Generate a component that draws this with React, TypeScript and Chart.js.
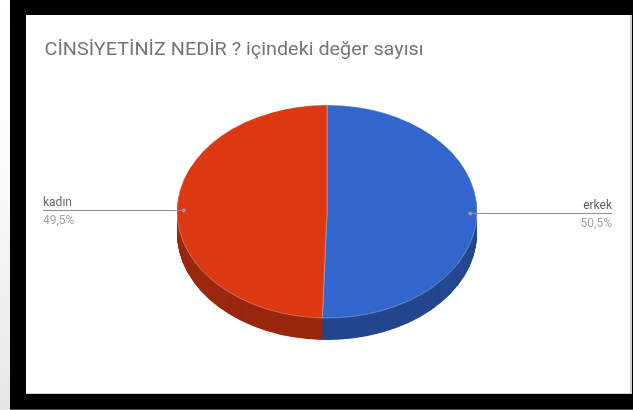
import React, { useEffect, useRef } from "react";
import { Chart, registerables } from "chart.js";

Chart.register(...registerables);

const TITLE = "CİNSİYETİNİZ NEDİR ? içindeki değer sayısı";
const categories = ["erkek", "kadın"];
const counts = [101, 99];
const topColors = ["#3366cc", "#dc3912"];
const sideColors = ["#25478f", "#9a280e"];

const TILT = 0.71;
const DEPTH = 22;

const pie3d = {
  id: "pie3d",
  beforeDatasetsDraw(chart: any) {
    const ctx = chart.ctx;
    const arcs = chart.getDatasetMeta(0).data;
    ctx.save();
    if (!arcs.length) return;
    const cx = arcs[0].x;
    const cy = arcs[0].y;
    ctx.translate(cx, cy);
    ctx.scale(1, TILT);
    ctx.translate(-cx, -cy);
    for (let d = DEPTH; d >= 0.5; d -= 0.5) {
      ctx.save();
      ctx.translate(0, d / TILT);
      arcs.forEach((arc: any, i: number) => {
        const saved = arc.options;
        arc.options = { ...saved, backgroundColor: sideColors[i], borderWidth: 0 };
        arc.draw(ctx);
        arc.options = saved;
      });
      ctx.restore();
    }
  },
  afterDatasetsDraw(chart: any) {
    const ctx = chart.ctx;
    ctx.restore();
    const arcs = chart.getDatasetMeta(0).data;
    const total = counts.reduce((a, b) => a + b, 0);
    const leftX = 17;
    const rightX = chart.width - 18;
    arcs.forEach((arc: any, i: number) => {
      const mid = (arc.startAngle + arc.endAngle) / 2;
      const r = arc.outerRadius * 0.955;
      const ax = arc.x + Math.cos(mid) * r;
      const ay = arc.y + Math.sin(mid) * r * TILT;
      const isRight = Math.cos(mid) >= 0;
      const lineY = Math.round(ay) + 0.5;
      const endX = isRight ? rightX : leftX;
      ctx.save();
      ctx.strokeStyle = "#8f8f8f";
      ctx.lineWidth = 1;
      ctx.beginPath();
      ctx.moveTo(ax, lineY);
      ctx.lineTo(endX, lineY);
      ctx.stroke();
      ctx.fillStyle = "#9a9a9a";
      ctx.beginPath();
      ctx.arc(ax, lineY, 2, 0, Math.PI * 2);
      ctx.fill();
      ctx.font = "12px Roboto";
      ctx.textBaseline = "alphabetic";
      ctx.textAlign = isRight ? "right" : "left";
      ctx.fillStyle = "#666666";
      ctx.fillText(categories[i], endX, lineY - 4.5);
      const pct = ((counts[i] / total) * 100).toFixed(1).replace(".", ",") + "%";
      ctx.fillStyle = "#a3a3a3";
      ctx.fillText(pct, endX, lineY + 13.5);
      ctx.restore();
    });
  },
  afterDraw(chart: any) {
    const ctx = chart.ctx;
    ctx.save();
    ctx.translate(18.5, 40);
    ctx.scale(1.09, 1);
    ctx.font = "18.2px Roboto";
    ctx.textAlign = "left";
    ctx.textBaseline = "alphabetic";
    ctx.fillStyle = "#757575";
    ctx.fillText(TITLE, 0, 0);
    ctx.restore();
  },
};

export default function App() {
  const ref = useRef<HTMLCanvasElement | null>(null);
  useEffect(() => {
    if (!ref.current) return;
    const chart = new Chart(ref.current, {
      type: "pie",
      data: {
        labels: categories,
        datasets: [
          {
            data: counts,
            backgroundColor: topColors,
            borderColor: "rgba(255,255,255,0.35)",
            borderWidth: 1,
            radius: 150,
            clip: false,
          } as any,
        ],
      },
      options: {
        animation: false,
        responsive: true,
        maintainAspectRatio: false,
        events: [],
        layout: { padding: { left: 17, right: 19, top: 44.6, bottom: 29.6 } },
        plugins: {
          legend: { display: false },
          tooltip: { enabled: false },
          title: { display: false },
        },
      } as any,
      plugins: [pie3d as any],
    });
    return () => chart.destroy();
  }, []);

  return (
    <div style={{ position: "absolute", left: 0, top: 0, width: 633, height: 410, overflow: "hidden", background: "linear-gradient(#ffffff 0%, #fafafa 45%, #e6e6e6 100%)" }}>
      <div style={{ position: "absolute", left: 10, top: 0, width: 623, height: 409, background: "#000" }} />
      <div style={{ position: "absolute", left: 10, top: 409, width: 623, height: 1, background: "#555" }} />
      <div style={{ position: "absolute", left: 26, top: 15, width: 604, height: 378, background: "#fff", borderRight: "2px solid #cfcfcf", borderBottom: "1px solid #cfcfcf" }}>
        <div style={{ position: "absolute", left: 0, top: 0, width: 604, height: 378 }}>
          <canvas ref={ref} />
        </div>
      </div>
    </div>
  );
}
